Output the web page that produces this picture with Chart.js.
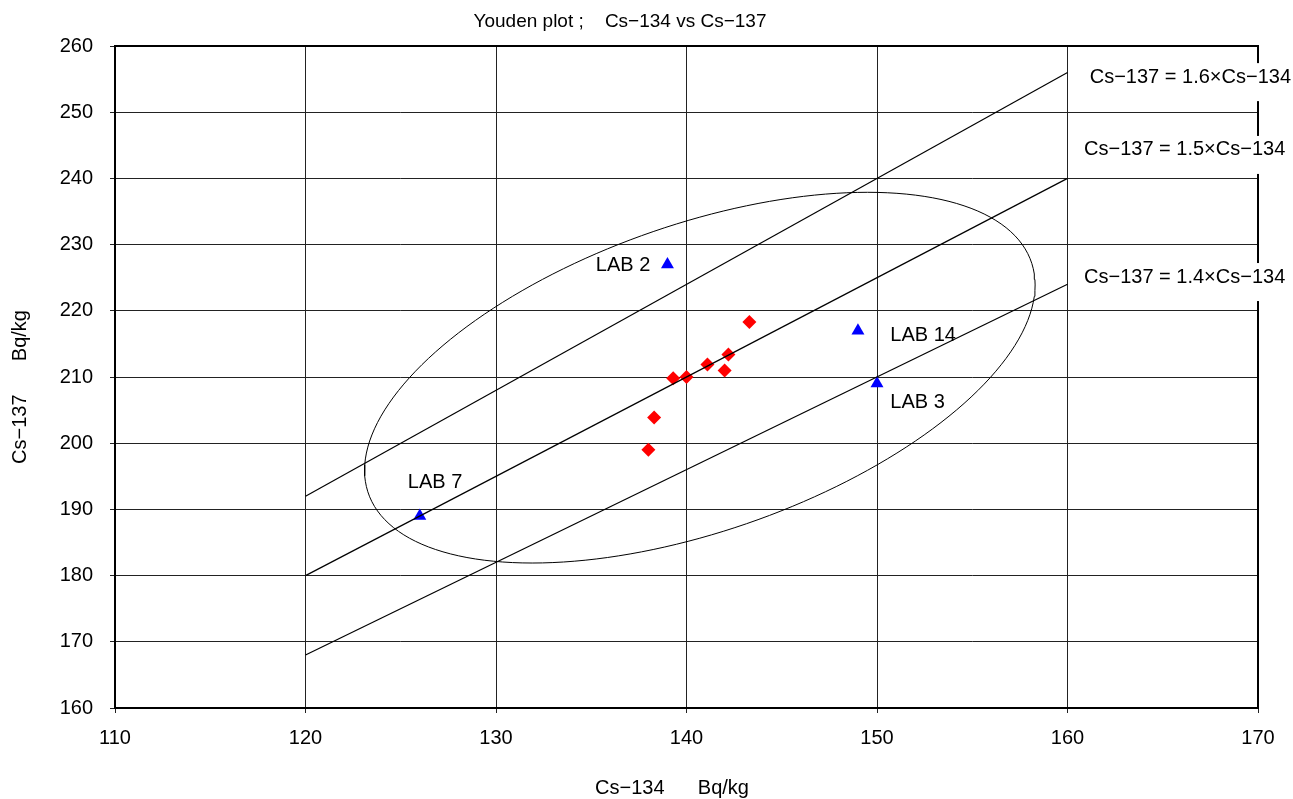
<!DOCTYPE html>
<html>
<head>
<meta charset="utf-8">
<script src="https://cdn.jsdelivr.net/npm/chart.js@4/dist/chart.umd.min.js"></script>
<style>
  body { margin: 0; background: #fff; }
  #wrap { width: 1293px; height: 799px; }
</style>
</head>
<body>
<div id="wrap"><canvas id="youden" width="1293" height="799"></canvas></div>
<script>
// Labelled labs (blue triangles)
const labNames = ['LAB 2', 'LAB 14', 'LAB 3', 'LAB 7'];
const labX = [139, 149, 150, 126];
const labY = [227, 217, 209, 189];

// Other labs (red diamonds)
const otherX = [143.3, 142.2, 142.0, 141.1, 140.0, 139.3, 138.3, 138.0];
const otherY = [218.3, 213.4, 211.0, 211.9, 210.0, 209.8, 203.9, 199.0];

// Ratio lines Cs-137 = k x Cs-134, drawn between these Cs-134 values
const ratios = [1.6, 1.5, 1.4];
const ratioFrom = 120;
const ratioTo = 160;

// Confidence ellipse (centre, half widths, correlation)
const ellCenter = [140.7, 209.9];
const ellHalf = [17.6, 28.0];
const ellRho = 0.5;

const xTicks = [110, 120, 130, 140, 150, 160, 170];
const yTicks = [160, 170, 180, 190, 200, 210, 220, 230, 240, 250, 260];

const FONT = '"Liberation Sans", Arial, sans-serif';

// label anchors (data units)
const labLabelPos = [
    { x: 138.1, y: 226.8, align: 'right' },
    { x: 150.7, y: 216.2, align: 'left' },
    { x: 150.7, y: 206.2, align: 'left' },
    { x: 126.8, y: 194.0, align: 'center' }
];
const ratioLabelX = [166.45, 166.15, 166.15];
const ratioLabelY = [255.3, 244.3, 225.1];

function ellipsePoints() {
    const phi = Math.acos(ellRho);
    const pts = [];
    for (let i = 0; i <= 180; i++) {
        const t = i / 180 * Math.PI * 2;
        pts.push({ x: ellCenter[0] + ellHalf[0] * Math.cos(t), y: ellCenter[1] + ellHalf[1] * Math.cos(t - phi) });
    }
    return pts;
}

const lineSets = ratios.map(k => ({
    data: [{ x: ratioFrom, y: ratioFrom * k }, { x: ratioTo, y: ratioTo * k }],
    showLine: true,
    borderColor: '#000',
    borderWidth: 1.2,
    pointRadius: 0
}));

const decor = {
    id: 'decor',
    afterDatasetsDraw(chart) {
        const { ctx, chartArea: a, scales: { x, y } } = chart;
        ctx.save();
        // frame
        ctx.strokeStyle = '#000';
        ctx.lineWidth = 2;
        ctx.strokeRect(a.left, a.top, a.right - a.left, a.bottom - a.top);

        ctx.fillStyle = '#000';
        ctx.textBaseline = 'middle';
        ctx.font = '20px ' + FONT;

        // lab labels
        labNames.forEach((n, i) => {
            const p = labLabelPos[i];
            ctx.textAlign = p.align;
            ctx.fillText(n, x.getPixelForValue(p.x), y.getPixelForValue(p.y));
        });

        // ratio labels with white boxes
        ratios.forEach((k, i) => {
            const cx = x.getPixelForValue(ratioLabelX[i]);
            const cy = y.getPixelForValue(ratioLabelY[i]);
            const txt = 'Cs\u2212137 = ' + k.toFixed(1) + '\u00d7Cs\u2212134';
            const w = ctx.measureText(txt).width;
            ctx.fillStyle = '#fff';
            ctx.fillRect(cx - w / 2 - 6, cy - 14, w + 12, 38);
            ctx.fillStyle = '#000';
            ctx.textAlign = 'center';
            ctx.fillText(txt, cx, cy);
        });

        // title
        ctx.font = '19px ' + FONT;
        ctx.textAlign = 'center';
        ctx.fillText('Youden plot ;    Cs\u2212134 vs Cs\u2212137', 620, 22);

        // axis titles
        ctx.font = '20px ' + FONT;
        ctx.fillText('Cs\u2212134      Bq/kg', 672, 788);
        ctx.translate(20, 387);
        ctx.rotate(-Math.PI / 2);
        ctx.fillText('Cs\u2212137      Bq/kg', 0, 0);
        ctx.restore();
    }
};

new Chart(document.getElementById('youden'), {
    type: 'scatter',
    data: {
        datasets: [
            {
                data: ellipsePoints(),
                showLine: true,
                borderColor: '#000',
                borderWidth: 1,
                pointRadius: 0,
                tension: 0
            },
            ...lineSets,
            {
                data: otherX.map((v, i) => ({ x: v, y: otherY[i] })),
                pointStyle: 'rectRot',
                pointRadius: 7,
                backgroundColor: '#ff0000',
                borderColor: '#ff0000',
                borderWidth: 0
            },
            {
                data: labX.map((v, i) => ({ x: v, y: labY[i] })),
                pointStyle: 'triangle',
                pointRadius: 7.5,
                backgroundColor: '#0000ff',
                borderColor: '#0000ff',
                borderWidth: 0
            }
        ]
    },
    options: {
        responsive: false,
        animation: false,
        layout: { padding: { top: 46, right: 35, left: 0, bottom: 0 } },
        plugins: { legend: { display: false }, tooltip: { enabled: false } },
        scales: {
            x: {
                type: 'linear',
                min: xTicks[0],
                max: xTicks[xTicks.length - 1],
                afterBuildTicks: s => { s.ticks = xTicks.map(v => ({ value: v })); },
                afterFit: s => { s.height = 91; },
                ticks: { color: '#000', font: { family: FONT, size: 20 }, padding: 13 },
                grid: { color: '#222', lineWidth: 1, tickLength: 5 },
                border: { display: false }
            },
            y: {
                type: 'linear',
                min: yTicks[0],
                max: yTicks[yTicks.length - 1],
                afterBuildTicks: s => { s.ticks = yTicks.map(v => ({ value: v })); },
                afterFit: s => { s.width = 115; },
                ticks: { color: '#000', font: { family: FONT, size: 20 }, padding: 17 },
                grid: { color: '#222', lineWidth: 1, tickLength: 5 },
                border: { display: false }
            }
        }
    },
    plugins: [decor]
});
</script>
</body>
</html>
